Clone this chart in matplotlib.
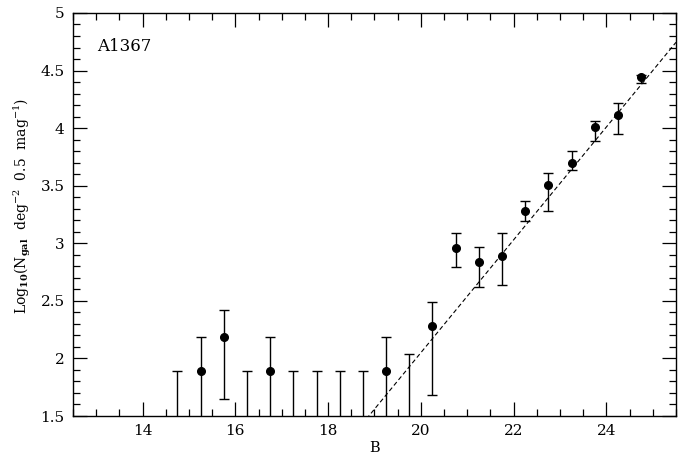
import numpy as np
import matplotlib
matplotlib.use("Agg")
import matplotlib.pyplot as plt
from matplotlib.ticker import MultipleLocator

# Galaxy counts per half-magnitude bin (B band)
b_mag = [14.75, 15.25, 15.75, 16.25, 16.75, 17.25, 17.75, 18.25, 18.75,
         19.25, 19.75, 20.25, 20.75, 21.25, 21.75, 22.25, 22.75, 23.25,
         23.75, 24.25, 24.75]
log_n = [np.nan, 1.89, 2.19, np.nan, 1.89, np.nan, np.nan, np.nan, np.nan,
         1.89, np.nan, 2.28, 2.96, 2.84, 2.89, 3.28, 3.51, 3.70,
         4.01, 4.11, 4.44]
log_hi = [1.89, 2.19, 2.42, 1.89, 2.19, 1.89, 1.89, 1.89, 1.89,
          2.19, 2.04, 2.49, 3.09, 2.97, 3.09, 3.37, 3.61, 3.80,
          4.06, 4.22, 4.46]
log_lo = [np.nan, np.nan, 1.65, np.nan, np.nan, np.nan, np.nan, np.nan, np.nan,
          np.nan, np.nan, 1.68, 2.79, 2.62, 2.64, 3.19, 3.28, 3.64,
          3.89, 3.95, 4.39]

# Linear fit to the faint-end counts: log N = intercept + slope * B
fit_intercept = -7.75
fit_slope = 0.49

x_lim = (12.5, 25.5)
y_lim = (1.5, 5.0)

plt.rcParams["font.family"] = ["DejaVu Serif"]
plt.rcParams["mathtext.fontset"] = "dejavuserif"

fig = plt.figure(figsize=(6.78, 4.57), dpi=100)
ax = fig.add_axes([0.1077, 0.0897, 0.8893, 0.8819])

b = np.asarray(b_mag)
y = np.asarray(log_n)
hi = np.asarray(log_hi)
lo = np.asarray(log_lo)
# bins without a lower bound run off the bottom of the plot
lo_draw = np.where(np.isnan(lo), y_lim[0] - 1.0, lo)
mid = (hi + lo_draw) / 2
ax.errorbar(b, mid, yerr=[mid - lo_draw, hi - mid], fmt="none",
            ecolor="black", elinewidth=1.0, capsize=3.5, capthick=1.0)
ax.plot(b, y, "o", color="black", markersize=5.5, linestyle="none")

xf = np.linspace(x_lim[0], x_lim[1], 200)
ax.plot(xf, fit_intercept + fit_slope * xf, color="black", lw=0.8,
        linestyle=(0, (4, 2.5)))

ax.set_xlim(*x_lim)
ax.set_ylim(*y_lim)
ax.xaxis.set_major_locator(MultipleLocator(2))
ax.xaxis.set_minor_locator(MultipleLocator(0.5))
ax.yaxis.set_major_locator(MultipleLocator(0.5))
ax.yaxis.set_minor_locator(MultipleLocator(0.1))
ax.yaxis.set_major_formatter(matplotlib.ticker.FuncFormatter(
    lambda v, p: ("%g" % v)))
ax.tick_params(which="both", direction="in", top=True, right=True,
               labelsize=11, width=0.9, pad=6)
ax.tick_params(which="major", length=10)
ax.tick_params(which="minor", length=5)
for s in ax.spines.values():
    s.set_linewidth(1.0)

ax.set_xlabel("B", fontsize=10.5, labelpad=2)
ax.set_ylabel(r"Log$_{\mathbf{10}}$(N$_{\mathbf{gal}}$  deg$^{-2}$  0.5  mag$^{-1}$)",
              fontsize=10)
ax.yaxis.set_label_coords(-0.067, 0.522)
ax.text(13.02, 4.71, "A1367", fontsize=12, va="center", ha="left")

fig.savefig("out.png", dpi=100)
